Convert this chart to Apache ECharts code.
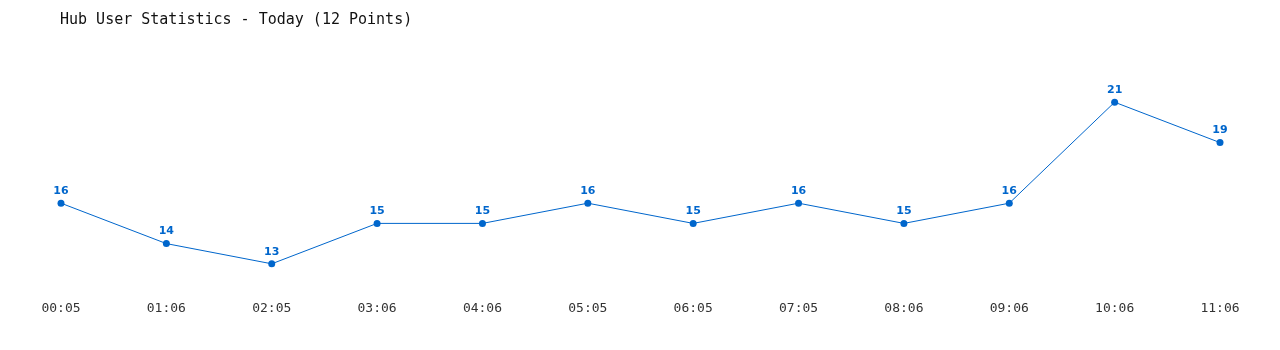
<!DOCTYPE html>
<html><head><meta charset="utf-8">
<script src="https://cdn.jsdelivr.net/npm/echarts@6/dist/echarts.min.js"></script>
<style>html,body{margin:0;padding:0;background:#fff}#c{width:1280px;height:350px}</style>
</head><body><div id="c"></div>
<script>
const titleText = "Hub User Statistics - Today (12 Points)";
const categories = ["00:05","01:06","02:05","03:06","04:06","05:05","06:05","07:05","08:06","09:06","10:06","11:06"];
const users = [16,14,13,15,15,16,15,16,15,16,21,19];

const chart = echarts.init(document.getElementById('c'), null, {renderer:'canvas'});
chart.setOption({
  animation:false,
  backgroundColor:'#fff',
  title:{text:titleText,left:55,top:8,textStyle:{fontFamily:'DejaVu Sans Mono',fontSize:15,fontWeight:'normal',color:'#111'}},
  grid:{left:61,right:60,top:82,bottom:66},
  xAxis:{type:'category',data:categories,boundaryGap:false,
    axisLine:{show:false},axisTick:{show:false},splitLine:{show:false},
    axisLabel:{margin:18,fontFamily:'DejaVu Sans Mono',fontSize:13,color:'#333'}},
  yAxis:{type:'value',min:12,max:22,show:false,splitLine:{show:false}},
  series:[{type:'line',data:users,symbol:'circle',symbolSize:7,
    lineStyle:{color:'#0066cc',width:1},itemStyle:{color:'#0066cc'},
    label:{show:true,position:'top',distance:3,fontFamily:'DejaVu Sans',fontWeight:'bold',fontSize:11,color:'#0066cc'}}]
});
</script></body></html>
